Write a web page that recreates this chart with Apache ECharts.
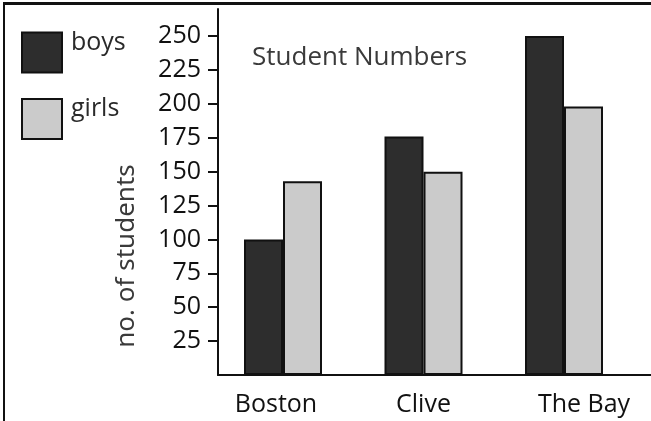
<!DOCTYPE html>
<html>
<head>
<meta charset="utf-8">
<script src="https://cdn.jsdelivr.net/npm/echarts@6/dist/echarts.min.js"></script>
<style>
  html, body { margin: 0; padding: 0; background: #fff; }
  #chart { position: absolute; left: 0; top: 0; width: 651px; height: 421px; }
  #frame { position: absolute; left: 3px; top: 2px; width: 648px; height: 419px;
           border-top: 3px solid #111; border-left: 2px solid #111; pointer-events: none; }
</style>
</head>
<body>
<div id="chart"></div>
<div id="frame"></div>
<script>
const categories = ['Boston', 'Clive', 'The Bay'];
const boys = [100, 176, 250];
const girls = [143, 150, 198];
const tickValues = [25, 50, 75, 100, 125, 150, 175, 200, 225, 250];
const titleText = 'Student Numbers';
const yName = 'no. of students';

const comic = '"Open Sans", sans-serif';
const chart = echarts.init(document.getElementById('chart'), null, { renderer: 'canvas' });
chart.setOption({
  animation: false,
  backgroundColor: '#fff',
  title: {
    text: titleText, left: 247, top: 40,
    textStyle: { fontFamily: comic, fontSize: 26, fontWeight: 'normal', color: '#3a3a3a' }
  },
  legend: {
    orient: 'vertical', left: 16, top: 25,
    itemWidth: 40, itemHeight: 40, itemGap: 23,
    icon: 'rect',
    itemStyle: { borderColor: '#111', borderWidth: 2 },
    formatter: function (n) { return '{t|' + n + '}'; },
    textStyle: {
      fontFamily: comic, fontSize: 25, color: '#2a2a2a',
      rich: { t: { fontFamily: comic, fontSize: 25, color: '#2a2a2a', padding: [0, 0, 20, 4] } }
    },
    data: ['boys', 'girls']
  },
  grid: [
    { left: 218, right: 0, top: 9, bottom: 46 },
    { left: 212.75, right: 16.75, top: 9, bottom: 46 }
  ],
  xAxis: [
    { gridIndex: 0, type: 'category', data: categories,
      axisLine: { show: true, lineStyle: { color: '#111', width: 2 } },
      axisTick: { show: false }, axisLabel: { show: false }, splitLine: { show: false } },
    { gridIndex: 1, type: 'category', data: categories,
      axisLine: { show: false }, axisTick: { show: false }, splitLine: { show: false },
      axisLabel: {
        interval: 0,
        margin: 17,
        fontFamily: comic, fontSize: 24, color: '#111',
        formatter: function (v) {
          const k = v === 'Boston' ? 'a' : (v === 'The Bay' ? 'c' : 'b');
          return '{' + k + '|' + v + '}';
        },
        rich: {
          a: { fontFamily: comic, fontSize: 25, color: '#111', padding: [0, 14, 0, 0] },
          b: { fontFamily: comic, fontSize: 25, color: '#111' },
          c: { fontFamily: comic, fontSize: 25, color: '#111', padding: [0, 0, 0, 40] }
        }
      } }
  ],
  yAxis: [
    { gridIndex: 0, type: 'value', min: 0, max: 270, interval: 25, show: false },
    { gridIndex: 1, type: 'value', min: 0, max: 270, interval: 25, offset: -5.25,
      axisLine: { show: true, lineStyle: { color: '#111', width: 2 } },
      axisTick: { show: true, length: 10, customValues: tickValues, lineStyle: { color: '#111', width: 2 } },
      axisLabel: { show: true, margin: 17,
        fontFamily: comic, fontSize: 25, color: '#111',
        formatter: function (v) { return tickValues.indexOf(v) >= 0 ? String(v) : ''; } },
      splitLine: { show: false },
      name: yName, nameLocation: 'middle', nameRotate: 90, nameGap: 78,
      nameTextStyle: { fontFamily: '"Noto Sans", sans-serif', fontSize: 26, color: '#3a3a3a', padding: [0, 128, 0, 0] }
    }
  ],
  series: [
    { name: 'boys', type: 'bar', xAxisIndex: 1, yAxisIndex: 1, data: boys,
      barWidth: 39, barGap: '0%',
      itemStyle: { color: '#2d2d2d', borderColor: '#111', borderWidth: 2 } },
    { name: 'girls', type: 'bar', xAxisIndex: 1, yAxisIndex: 1, data: girls,
      barWidth: 39, barGap: '0%',
      itemStyle: { color: '#cbcbcb', borderColor: '#111', borderWidth: 2 } }
  ]
});
</script>
</body>
</html>
